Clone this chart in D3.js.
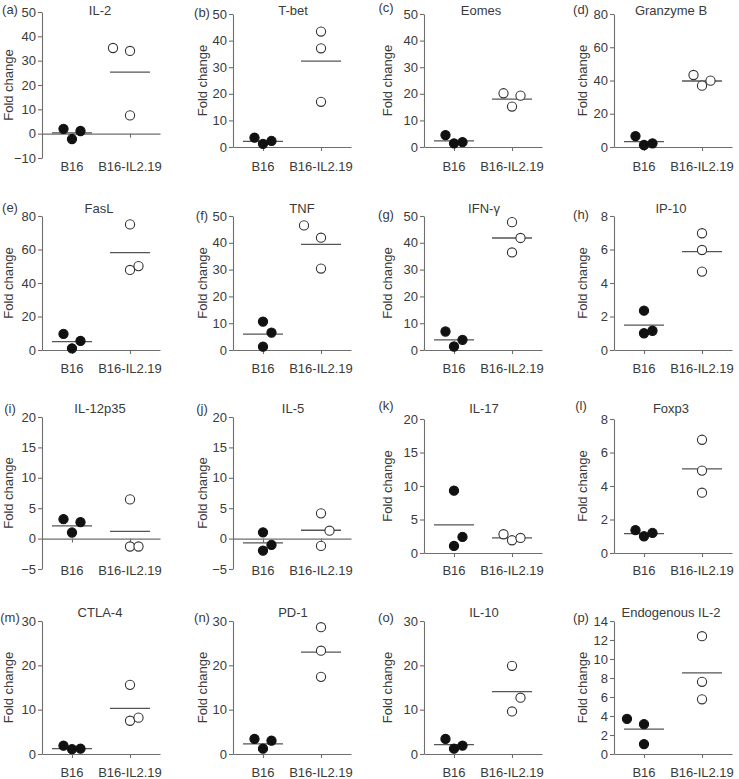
<!DOCTYPE html>
<html><head><meta charset="utf-8">
<script src="https://cdn.jsdelivr.net/npm/d3@7"></script>
<style>
html,body{margin:0;padding:0;background:#fff;}
svg text{font-family:"Liberation Sans",Arial,Helvetica,sans-serif;fill:#3a3a3a;}
</style></head>
<body>
<svg id="chart" width="739" height="779"></svg>
<script>
// ---------- data ----------
const categories = ["B16", "B16-IL2.19"];
const panelLetters = ["(a)","(b)","(c)","(d)","(e)","(f)","(g)","(h)","(i)","(j)","(k)","(l)","(m)","(n)","(o)","(p)"];
const panelTitles = ["IL-2","T-bet","Eomes","Granzyme B","FasL","TNF","IFN-γ","IP-10","IL-12p35","IL-5","IL-17","Foxp3","CTLA-4","PD-1","IL-10","Endogenous IL-2"];
const yDomains = [[-10,50],[0,50],[0,50],[0,80],[0,80],[0,50],[0,50],[0,8],[-5,20],[-5,20],[0,20],[0,8],[0,30],[0,30],[0,30],[0,14]];
const yTicks = [
  [-10,0,10,20,30,40,50],[0,10,20,30,40,50],[0,10,20,30,40,50],[0,20,40,60,80],
  [0,20,40,60,80],[0,10,20,30,40,50],[0,10,20,30,40,50],[0,2,4,6,8],
  [-5,0,5,10,15,20],[-5,0,5,10,15,20],[0,5,10,15,20],[0,2,4,6,8],
  [0,10,20,30],[0,10,20,30],[0,10,20,30],[0,2,4,6,8,10,12,14]
];
const b16Values = [
  [2.0,-2.2,1.1],[3.5,1.2,2.3],[4.5,1.4,1.8],[6.6,1.2,2.2],
  [9.6,1.0,5.4],[10.6,6.5,1.25],[6.9,1.3,3.8],[2.35,1.0,1.15],
  [3.2,2.7,1.0],[1.04,-1.04,-1.97],[9.3,2.4,1.05],[1.36,1.0,1.2],
  [1.87,1.1,1.2],[3.4,1.2,3.0],[3.4,1.2,1.9],[3.7,3.14,1.05]
];
const b16Jitter = [
  [-1,0,1],[-1,0,1],[-1,0,1],[-1,0,1],
  [-1,0,1],[0,1,0],[-1,0,1],[0,0,1],
  [-1,1,0],[0,1,0],[0,1,0],[-1,0,1],
  [-1,0,1],[-1,0,1],[-1,0,1],[-2,0,0]
];
const il219Values = [
  [35.2,34.0,7.5],[43.4,37.1,17.0],[20.2,15.2,19.3],[43.3,36.9,39.9],
  [75.0,47.8,50.1],[46.5,41.9,30.4],[47.7,41.8,36.4],[6.97,5.97,4.68],
  [6.45,-1.3,-1.3],[4.15,1.3,-1.2],[2.8,1.9,2.25],[6.76,4.92,3.6],
  [15.6,7.5,8.2],[28.6,23.3,17.4],[19.9,12.7,9.6],[12.4,7.6,5.76]
];
const il219Jitter = [
  [-2,0,0],[0,0,0],[-1,0,1],[-1,0,1],
  [0,0,1],[-2,0,0],[0,1,0],[0,0,0],
  [0,0,1],[0,1,0],[-1,0,1],[0,0,0],
  [0,0,1],[0,0,0],[0,1,0],[0,0,0]
];
const b16Means = [0.3,2.1,2.3,3.2,5.0,5.9,3.8,1.49,2.1,-0.7,4.2,1.16,1.2,2.3,2.1,2.62];
const il219Means = [25.3,32.3,18.0,39.7,58.1,39.4,41.8,5.87,1.2,1.37,2.25,5.02,10.3,23.0,14.06,8.55];

// ---------- layout ----------
const colAxisX = [42, 233, 424, 614];
const plotW = 118;
const plotExtents = [
  [12,158],[14,147],[14,147],[14,147],
  [216,350],[216,350],[216,350],[216,350],
  [417,569],[417,569],[419,553],[419,553],
  [621,754],[621,754],[621,754],[621,754]
];
const rowLabelY = [166, 368, 570, 772];
const rowTitleY = [10, 208, 408, 612];
const titleX = [100,293,481,671, 99,302,484,671, 100,293,484,671, 100,293,484,671];
const letterY = [9,12,7,9, 207,215,214,214, 408,408,405,405, 617,617,617,617];
const letterX = [10,202,386,581];
const yLabelX = [8,202,387,582];
const jitterPx = 8.5, r = 4.6, meanHalf = 20;
const axisColor = "#6e6e6e", fs = 13;

const svg = d3.select("#chart");

panelTitles.forEach((title, i) => {
  const row = Math.floor(i / 4), col = i % 4;
  const x0 = colAxisX[col];
  const [top, bottom] = plotExtents[i];
  const y = d3.scaleLinear().domain(yDomains[i]).range([bottom, top]);
  const x = d3.scalePoint().domain(categories).range([x0, x0 + plotW]).padding(0.517);
  const g = svg.append("g");

  // y axis
  const ya = g.append("g").attr("transform", `translate(${x0},0)`)
    .call(d3.axisLeft(y).tickValues(yTicks[i]).tickSize(4).tickSizeOuter(0).tickPadding(2));
  ya.selectAll("path,line").attr("stroke", axisColor).attr("stroke-width", 1.1);
  ya.selectAll("text").attr("font-size", fs).attr("fill", "#3a3a3a")
    .style("font-family", '"Liberation Sans",Arial,sans-serif');

  // x axis at zero
  const xa = g.append("g").attr("transform", `translate(0,${y(0)})`)
    .call(d3.axisBottom(x).tickSize(4).tickSizeOuter(0).tickFormat(() => ""));
  xa.selectAll("path,line").attr("stroke", axisColor).attr("stroke-width", 1.1);

  // category labels
  g.selectAll("text.cat").data(categories).join("text").attr("class", "cat")
    .attr("x", d => x(d)).attr("y", rowLabelY[row]).attr("dy", "0.35em")
    .attr("text-anchor", "middle").attr("font-size", fs).text(d => d);

  // y label
  g.append("text")
    .attr("transform", `translate(${yLabelX[col]},${(top + bottom) / 2}) rotate(-90)`)
    .attr("dy", "0.35em").attr("text-anchor", "middle").attr("font-size", fs)
    .text("Fold change");

  // title and letter
  g.append("text").attr("x", titleX[i]).attr("y", rowTitleY[row]).attr("dy", "0.35em")
    .attr("text-anchor", "middle").attr("font-size", fs).text(title);
  g.append("text").attr("x", letterX[col]).attr("y", letterY[i]).attr("dy", "0.35em")
    .attr("text-anchor", "middle").attr("font-size", fs).text(panelLetters[i]);

  // mean lines
  const means = [b16Means[i], il219Means[i]];
  g.selectAll("line.mean").data(categories).join("line").attr("class", "mean")
    .attr("x1", d => x(d) - meanHalf).attr("x2", d => x(d) + meanHalf)
    .attr("y1", (d, k) => y(means[k])).attr("y2", (d, k) => y(means[k]))
    .attr("stroke", "#555").attr("stroke-width", 1.3);

  // points
  const pts = [];
  b16Values[i].forEach((v, k) => pts.push({cat: categories[0], v, j: b16Jitter[i][k], filled: true}));
  il219Values[i].forEach((v, k) => pts.push({cat: categories[1], v, j: il219Jitter[i][k], filled: false}));
  g.selectAll("circle").data(pts).join("circle")
    .attr("cx", d => x(d.cat) + d.j * jitterPx).attr("cy", d => y(d.v)).attr("r", r)
    .attr("fill", d => d.filled ? "#111" : "#fff")
    .attr("stroke", d => d.filled ? "#111" : "#333").attr("stroke-width", 1.1);
});
</script>
</body></html>
